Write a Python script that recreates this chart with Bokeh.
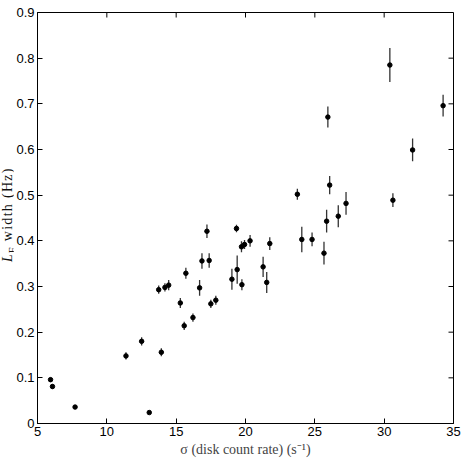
import math
from bokeh.plotting import figure
from bokeh.layouts import row
from bokeh.models import ColumnDataSource, Range1d, FixedTicker, Div
from bokeh.embed import file_html
from bokeh.resources import INLINE

# disk count rate (s^-1)
sigma = [5.94, 6.08, 7.71, 13.06, 11.38, 12.51, 13.93, 13.74, 14.19, 14.46,
         15.30, 15.58, 15.70, 16.21, 16.69, 16.86, 17.22, 17.38, 17.50, 17.86,
         19.02, 19.35, 19.40, 19.74, 19.71, 19.93, 20.33, 21.27, 21.53, 21.75,
         23.74, 24.06, 24.80, 25.66, 25.85, 25.94, 26.07, 26.69, 27.25, 30.41,
         30.63, 32.05, 34.25]
# LF width (Hz)
lf_width = [0.096, 0.081, 0.036, 0.024, 0.148, 0.180, 0.156, 0.293, 0.298, 0.303,
            0.264, 0.214, 0.329, 0.232, 0.297, 0.356, 0.421, 0.357, 0.262, 0.270,
            0.316, 0.427, 0.337, 0.304, 0.387, 0.392, 0.400, 0.343, 0.309, 0.394,
            0.502, 0.403, 0.403, 0.373, 0.443, 0.671, 0.522, 0.454, 0.482, 0.785,
            0.489, 0.599, 0.696]
# error (half length)
lf_err = [0.005, 0.005, 0.004, 0.002, 0.008, 0.009, 0.009, 0.009, 0.009, 0.011,
          0.011, 0.009, 0.012, 0.009, 0.017, 0.017, 0.015, 0.016, 0.009, 0.010,
          0.023, 0.008, 0.031, 0.012, 0.012, 0.010, 0.013, 0.022, 0.023, 0.014,
          0.012, 0.028, 0.015, 0.025, 0.025, 0.023, 0.020, 0.024, 0.025, 0.037,
          0.015, 0.025, 0.024]

x_ticks = [5, 10, 15, 20, 25, 30, 35]
y_ticks = [0, 0.1, 0.2, 0.3, 0.4, 0.5, 0.6, 0.7, 0.8, 0.9]
x_min, x_max = 5, 35
y_min, y_max = 0, 0.9

lower = [v - e for v, e in zip(lf_width, lf_err)]
upper = [v + e for v, e in zip(lf_width, lf_err)]
src = ColumnDataSource(dict(x=sigma, y=lf_width, lo=lower, hi=upper))

TICK_FONT = "Liberation Sans"
SERIF = "Liberation Serif"

LABEL_W = 13
p = figure(width=463 - LABEL_W, height=463, output_backend="svg", toolbar_location=None,
           x_range=Range1d(x_min, x_max), y_range=Range1d(y_min, y_max),
           min_border_left=37 - LABEL_W, min_border_right=10, min_border_top=12,
           min_border_bottom=40, background_fill_color="white",
           border_fill_color="white")
p.outline_line_color = "black"
p.outline_line_width = 1
p.xgrid.visible = False
p.ygrid.visible = False

p.segment(x0="x", y0="lo", x1="x", y1="hi", source=src,
          line_color="#333333", line_width=1.3)
p.scatter(x="x", y="y", source=src, size=4.5, fill_color="black", line_color="black")

# mirrored inward ticks on top and right edges
p.ray(x=x_ticks, y=[y_max] * len(x_ticks), length=5, length_units="screen",
      angle=-math.pi / 2, line_color="black", line_width=1)
p.ray(x=[x_max] * len(y_ticks), y=y_ticks, length=5, length_units="screen",
      angle=math.pi, line_color="black", line_width=1)

for ax, ticks in ((p.xaxis[0], x_ticks), (p.yaxis[0], y_ticks)):
    ax.ticker = FixedTicker(ticks=ticks)
    ax.major_tick_in = 5
    ax.major_tick_out = 0
    ax.minor_tick_line_color = None
    ax.axis_line_color = "black"
    ax.major_tick_line_color = "black"
    ax.major_label_text_font = TICK_FONT
    ax.major_label_text_font_size = "13px"
    ax.major_label_text_color = "black"
    ax.major_label_standoff = 3

p.yaxis[0].major_label_overrides = {0: "0"}
xa = p.xaxis[0]
xa.axis_label = "\u03c3 (disk count rate) (s\u207b\u00b9)"
xa.axis_label_text_font = SERIF
xa.axis_label_text_font_style = "normal"
xa.axis_label_text_font_size = "14px"
xa.axis_label_standoff = 3

# y-axis label (L with subscript F) as rotated HTML text beside the plot
ylabel_html = (
    '<div style="position:relative;width:%dpx;height:463px;">'
    '<div style="position:absolute;left:1px;top:262px;transform-origin:0 0;'
    'transform:rotate(-90deg);white-space:nowrap;font-family:\'Liberation Serif\';'
    'font-size:14px;line-height:14px;letter-spacing:1.3px;color:#111;">'
    '<i>L</i><sub style="font-size:10px;line-height:0;">F</sub>&nbsp;width&nbsp;(Hz)'
    '</div></div>' % LABEL_W
)
ylab = Div(text=ylabel_html, width=LABEL_W, height=463, margin=0)

layout = row(ylab, p, spacing=0)
open("out.html", "w").write(file_html(layout, INLINE))
